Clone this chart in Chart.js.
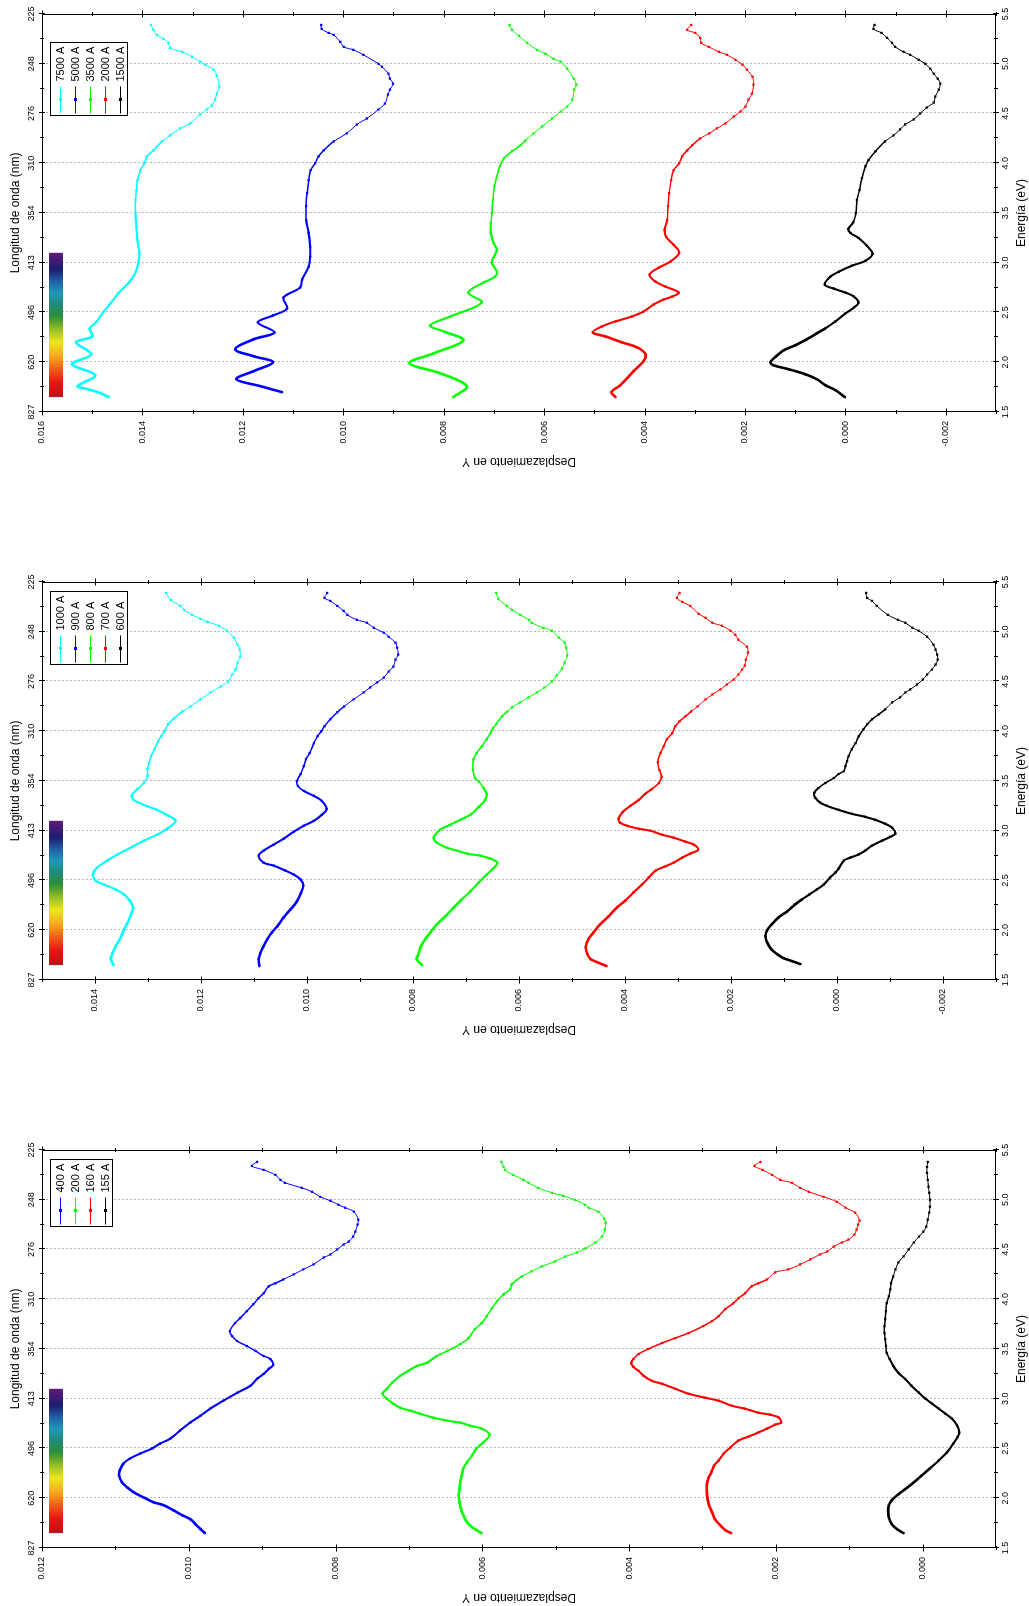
<!DOCTYPE html>
<html>
<head>
<meta charset="utf-8">
<title>Desplazamiento en Y</title>
<script src="https://cdn.jsdelivr.net/npm/chart.js@4.4.1/dist/chart.umd.min.js"></script>
<style>
    html, body { margin: 0; padding: 0; background: #fff; }
    body { width: 1029px; height: 1606px; position: relative; overflow: hidden; }
    /* each plot is drawn upright and turned a quarter turn anticlockwise */
    canvas.panel { position: absolute; left: 0; transform-origin: 0 0; transform: rotate(-90deg); }
</style>
</head>
<body>
<canvas id="p1" class="panel" width="490" height="1029" style="top:490px"></canvas>
<canvas id="p2" class="panel" width="490" height="1029" style="top:1058px"></canvas>
<canvas id="p3" class="panel" width="490" height="1029" style="top:1626px"></canvas>
<script>
// Axis ticks
var energyTicks = [1.5, 2.0, 2.5, 3.0, 3.5, 4.0, 4.5, 5.0, 5.5];
var waveLabels = ['827', '620', '496', '413', '354', '310', '276', '248', '225'];
var yTicks1 = [-0.002, 0, 0.002, 0.004, 0.006, 0.008, 0.010, 0.012, 0.014, 0.016];
var yTicks2 = [-0.002, 0, 0.002, 0.004, 0.006, 0.008, 0.010, 0.012, 0.014];
var yTicks3 = [0, 0.002, 0.004, 0.006, 0.008, 0.010, 0.012];
var yRange1 = [-0.003, 0.016];
var yRange2 = [-0.003, 0.015];
var yRange3 = [-0.001, 0.012];

// Visible spectrum strip (eV)
var specStart = 1.65, specEnd = 3.10;

// Series: energy (eV) and displacement (x 10^-3)
var e7500 = [1.65, 1.69, 1.73, 1.76, 1.87, 1.98, 2.08, 2.20, 2.26, 2.34,
    2.41, 2.51, 2.59, 2.70, 2.80, 2.90, 3.00, 3.10, 3.23, 3.36,
    3.50, 3.63, 3.73, 3.83, 3.93, 4.00, 4.07, 4.13, 4.22, 4.28,
    4.35, 4.40, 4.49, 4.54, 4.58, 4.64, 4.70, 4.77, 4.88, 4.94,
    4.99, 5.02, 5.07, 5.12, 5.16, 5.21, 5.25, 5.29, 5.34, 5.39];
var y7500 = [14.67, 14.84, 15.09, 15.29, 14.94, 15.40, 15.02, 15.32, 15.00, 15.05,
    14.91, 14.77, 14.64, 14.47, 14.27, 14.14, 14.08, 14.06, 14.10, 14.12,
    14.14, 14.14, 14.12, 14.10, 14.04, 13.96, 13.91, 13.78, 13.61, 13.45,
    13.25, 13.05, 12.85, 12.72, 12.62, 12.55, 12.52, 12.47, 12.52, 12.58,
    12.75, 12.85, 13.01, 13.21, 13.45, 13.48, 13.58, 13.71, 13.78, 13.83];

var e5000 = [1.70, 1.76, 1.83, 1.91, 2.00, 2.06, 2.13, 2.23, 2.30, 2.40,
    2.47, 2.54, 2.65, 2.75, 2.83, 2.96, 3.06, 3.16, 3.30, 3.43,
    3.57, 3.70, 3.83, 3.93, 4.00, 4.07, 4.13, 4.22, 4.30, 4.39,
    4.45, 4.54, 4.60, 4.69, 4.74, 4.80, 4.85, 4.90, 4.97, 5.00,
    5.09, 5.14, 5.17, 5.22, 5.29, 5.31, 5.35, 5.39];
var y5000 = [11.22, 11.65, 12.13, 11.79, 11.40, 11.78, 12.15, 11.79, 11.37, 11.70,
    11.40, 11.12, 11.19, 10.86, 10.82, 10.69, 10.66, 10.66, 10.69, 10.74,
    10.74, 10.72, 10.69, 10.65, 10.56, 10.49, 10.39, 10.19, 9.93, 9.73,
    9.53, 9.30, 9.17, 9.11, 9.07, 9.01, 9.07, 9.10, 9.23, 9.30,
    9.60, 9.80, 9.99, 10.06, 10.19, 10.29, 10.43, 10.44];

var e3500 = [1.65, 1.76, 1.89, 1.99, 2.09, 2.22, 2.31, 2.37, 2.46, 2.60,
    2.70, 2.80, 2.86, 2.91, 3.00, 3.06, 3.13, 3.20, 3.30, 3.40,
    3.50, 3.63, 3.77, 3.87, 3.97, 4.05, 4.12, 4.18, 4.23, 4.30,
    4.37, 4.45, 4.52, 4.57, 4.64, 4.74, 4.79, 4.85, 4.95, 5.02,
    5.05, 5.10, 5.14, 5.21, 5.28, 5.34, 5.39];
var y3500 = [7.81, 7.54, 8.07, 8.68, 8.20, 7.61, 8.00, 8.27, 7.87, 7.24,
    7.51, 7.21, 6.98, 6.94, 7.04, 7.00, 6.94, 7.01, 7.06, 7.06,
    7.04, 7.02, 6.99, 6.94, 6.88, 6.80, 6.64, 6.47, 6.37, 6.21,
    6.04, 5.84, 5.67, 5.54, 5.44, 5.40, 5.36, 5.41, 5.54, 5.67,
    5.81, 5.97, 6.14, 6.34, 6.50, 6.64, 6.69];

var e2000 = [1.65, 1.70, 1.77, 1.91, 2.01, 2.08, 2.15, 2.20, 2.26, 2.30,
    2.36, 2.41, 2.46, 2.51, 2.58, 2.63, 2.66, 2.70, 2.76, 2.81,
    2.88, 2.95, 3.01, 3.10, 3.18, 3.26, 3.33, 3.43, 3.57, 3.70,
    3.83, 3.93, 4.00, 4.07, 4.13, 4.18, 4.25, 4.30, 4.35, 4.40,
    4.47, 4.52, 4.57, 4.64, 4.70, 4.79, 4.87, 4.94, 4.99, 5.04,
    5.09, 5.12, 5.17, 5.21, 5.26, 5.31, 5.34, 5.39];
var y2000 = [4.58, 4.66, 4.48, 4.22, 4.02, 3.98, 4.15, 4.45, 4.78, 5.03,
    4.85, 4.58, 4.25, 4.02, 3.82, 3.62, 3.45, 3.32, 3.58, 3.78,
    3.90, 3.72, 3.49, 3.31, 3.42, 3.57, 3.60, 3.55, 3.53, 3.51,
    3.47, 3.42, 3.31, 3.25, 3.15, 3.05, 2.89, 2.71, 2.56, 2.39,
    2.22, 2.09, 1.99, 1.93, 1.86, 1.83, 1.85, 1.96, 2.05, 2.19,
    2.36, 2.52, 2.72, 2.87, 2.89, 2.99, 3.15, 3.07];

var e1500 = [1.65, 1.72, 1.77, 1.83, 1.88, 1.93, 1.97, 2.00, 2.06, 2.12,
    2.17, 2.23, 2.29, 2.34, 2.41, 2.49, 2.55, 2.60, 2.66, 2.70,
    2.74, 2.78, 2.86, 2.91, 2.97, 3.02, 3.09, 3.17, 3.25, 3.30,
    3.34, 3.41, 3.50, 3.63, 3.73, 3.85, 3.97, 4.03, 4.12, 4.22,
    4.28, 4.34, 4.39, 4.44, 4.50, 4.56, 4.61, 4.67, 4.74, 4.80,
    4.85, 4.90, 4.95, 5.00, 5.04, 5.09, 5.12, 5.17, 5.21, 5.26,
    5.31, 5.35, 5.39];
var y1500 = [0.01, 0.20, 0.40, 0.57, 0.80, 1.13, 1.43, 1.49, 1.38, 1.23,
    1.00, 0.77, 0.57, 0.40, 0.20, 0.00, -0.17, -0.26, -0.17, 0.00,
    0.23, 0.41, 0.30, 0.13, -0.13, -0.40, -0.54, -0.43, -0.26, -0.10,
    -0.06, -0.16, -0.21, -0.23, -0.28, -0.33, -0.40, -0.46, -0.60, -0.79,
    -0.96, -1.09, -1.19, -1.36, -1.49, -1.62, -1.76, -1.79, -1.86, -1.89,
    -1.84, -1.76, -1.69, -1.59, -1.46, -1.29, -1.16, -0.99, -0.93, -0.83,
    -0.72, -0.56, -0.58];

var e1000 = [1.65, 1.71, 1.77, 1.84, 1.91, 2.01, 2.08, 2.16, 2.23, 2.31,
    2.36, 2.41, 2.46, 2.50, 2.56, 2.63, 2.70, 2.76, 2.83, 2.90,
    2.96, 3.02, 3.10, 3.15, 3.21, 3.26, 3.31, 3.35, 3.42, 3.48,
    3.55, 3.62, 3.68, 3.75, 3.82, 3.90, 3.95, 4.00, 4.07, 4.13,
    4.20, 4.25, 4.32, 4.39, 4.45, 4.50, 4.57, 4.62, 4.69, 4.75,
    4.82, 4.87, 4.94, 5.01, 5.06, 5.10, 5.13, 5.17, 5.22, 5.26,
    5.32, 5.39];
var y1000 = [13.65, 13.70, 13.67, 13.61, 13.53, 13.45, 13.38, 13.32, 13.28, 13.36,
    13.45, 13.61, 13.83, 13.99, 14.04, 13.96, 13.77, 13.58, 13.33, 13.08,
    12.83, 12.64, 12.48, 12.61, 12.83, 13.08, 13.27, 13.31, 13.20, 13.08,
    13.01, 13.01, 12.98, 12.94, 12.88, 12.81, 12.75, 12.69, 12.62, 12.51,
    12.35, 12.20, 12.01, 11.82, 11.63, 11.49, 11.41, 11.35, 11.31, 11.26,
    11.27, 11.31, 11.38, 11.51, 11.66, 11.88, 12.01, 12.17, 12.32, 12.39,
    12.57, 12.66];

var e900 = [1.64, 1.71, 1.77, 1.84, 1.91, 1.98, 2.04, 2.13, 2.21, 2.29,
    2.38, 2.45, 2.51, 2.56, 2.60, 2.65, 2.68, 2.75, 2.80, 2.86,
    2.92, 2.99, 3.05, 3.10, 3.16, 3.22, 3.30, 3.35, 3.40, 3.45,
    3.50, 3.57, 3.65, 3.72, 3.78, 3.88, 3.95, 4.00, 4.05, 4.12,
    4.19, 4.25, 4.32, 4.39, 4.44, 4.49, 4.54, 4.60, 4.65, 4.72,
    4.77, 4.84, 4.89, 4.95, 4.99, 5.04, 5.09, 5.12, 5.17, 5.21,
    5.26, 5.31, 5.34, 5.39];
var y900 = [10.90, 10.91, 10.88, 10.82, 10.75, 10.66, 10.56, 10.44, 10.31, 10.19,
    10.11, 10.07, 10.12, 10.25, 10.41, 10.63, 10.82, 10.91, 10.82, 10.63,
    10.44, 10.25, 10.06, 9.87, 9.72, 9.63, 9.72, 9.87, 10.06, 10.17,
    10.19, 10.12, 10.06, 10.02, 9.95, 9.87, 9.80, 9.73, 9.67, 9.56,
    9.43, 9.30, 9.12, 8.93, 8.81, 8.68, 8.55, 8.46, 8.37, 8.33,
    8.28, 8.30, 8.33, 8.46, 8.55, 8.74, 8.87, 9.06, 9.24, 9.31,
    9.43, 9.56, 9.67, 9.62];

var e800 = [1.65, 1.71, 1.77, 1.84, 1.91, 1.98, 2.06, 2.14, 2.23, 2.31,
    2.39, 2.48, 2.56, 2.64, 2.68, 2.72, 2.75, 2.77, 2.80, 2.83,
    2.88, 2.93, 3.01, 3.06, 3.11, 3.16, 3.24, 3.31, 3.37, 3.43,
    3.49, 3.53, 3.61, 3.72, 3.78, 3.85, 3.92, 3.98, 4.03, 4.08,
    4.15, 4.20, 4.24, 4.29, 4.34, 4.39, 4.44, 4.50, 4.56, 4.63,
    4.69, 4.76, 4.84, 4.89, 4.94, 5.01, 5.04, 5.09, 5.12, 5.17,
    5.22, 5.26, 5.33, 5.39];
var y800 = [7.83, 7.93, 7.89, 7.85, 7.77, 7.67, 7.55, 7.39, 7.23, 7.08,
    6.92, 6.76, 6.61, 6.45, 6.41, 6.54, 6.73, 6.98, 7.17, 7.36,
    7.55, 7.61, 7.49, 7.30, 7.11, 6.92, 6.76, 6.64, 6.61, 6.67,
    6.75, 6.83, 6.87, 6.86, 6.80, 6.70, 6.61, 6.54, 6.49, 6.42,
    6.32, 6.22, 6.13, 5.98, 5.82, 5.66, 5.52, 5.38, 5.29, 5.19,
    5.14, 5.09, 5.11, 5.14, 5.25, 5.38, 5.54, 5.76, 5.81, 5.98,
    6.13, 6.23, 6.39, 6.43];

var e700 = [1.64, 1.68, 1.71, 1.76, 1.83, 1.91, 1.98, 2.06, 2.14, 2.23,
    2.30, 2.38, 2.46, 2.53, 2.60, 2.64, 2.68, 2.73, 2.77, 2.81,
    2.86, 2.89, 2.93, 2.96, 3.00, 3.02, 3.05, 3.08, 3.12, 3.19,
    3.25, 3.31, 3.37, 3.42, 3.48, 3.54, 3.61, 3.69, 3.78, 3.85,
    3.92, 3.98, 4.05, 4.10, 4.15, 4.20, 4.25, 4.32, 4.37, 4.42,
    4.47, 4.52, 4.57, 4.62, 4.66, 4.72, 4.79, 4.85, 4.92, 4.97,
    5.01, 5.06, 5.09, 5.14, 5.18, 5.26, 5.30, 5.34, 5.39];
var y700 = [4.35, 4.53, 4.65, 4.71, 4.74, 4.69, 4.59, 4.47, 4.31, 4.15,
    3.99, 3.84, 3.68, 3.55, 3.42, 3.25, 3.08, 2.92, 2.77, 2.62,
    2.70, 2.86, 3.08, 3.30, 3.52, 3.74, 3.96, 4.09, 4.12, 4.04,
    3.90, 3.74, 3.62, 3.49, 3.36, 3.31, 3.35, 3.38, 3.33, 3.27,
    3.21, 3.11, 3.05, 2.97, 2.86, 2.75, 2.63, 2.48, 2.35, 2.20,
    2.08, 1.95, 1.86, 1.79, 1.74, 1.72, 1.68, 1.70, 1.86, 1.92,
    2.01, 2.17, 2.35, 2.48, 2.61, 2.77, 2.92, 3.02, 2.97];

var e600 = [1.66, 1.69, 1.72, 1.76, 1.81, 1.88, 1.94, 2.00, 2.06, 2.13,
    2.19, 2.26, 2.31, 2.36, 2.41, 2.46, 2.53, 2.58, 2.62, 2.70,
    2.73, 2.76, 2.80, 2.85, 2.90, 2.94, 2.97, 3.03, 3.07, 3.11,
    3.14, 3.17, 3.21, 3.25, 3.28, 3.33, 3.38, 3.43, 3.48, 3.53,
    3.57, 3.60, 3.65, 3.70, 3.75, 3.82, 3.88, 3.95, 4.02, 4.07,
    4.12, 4.17, 4.22, 4.29, 4.34, 4.39, 4.42, 4.47, 4.52, 4.57,
    4.62, 4.67, 4.72, 4.77, 4.82, 4.87, 4.95, 5.01, 5.04, 5.09,
    5.12, 5.17, 5.26, 5.31, 5.34, 5.39];
var y600 = [0.69, 0.85, 1.01, 1.13, 1.24, 1.32, 1.35, 1.32, 1.23, 1.10,
    0.94, 0.79, 0.66, 0.52, 0.38, 0.25, 0.13, 0.03, -0.03, -0.13,
    -0.25, -0.40, -0.53, -0.66, -0.85, -1.01, -1.10, -1.04, -0.91, -0.72,
    -0.53, -0.28, -0.03, 0.19, 0.31, 0.41, 0.43, 0.35, 0.22, 0.06,
    -0.03, -0.13, -0.16, -0.19, -0.22, -0.28, -0.35, -0.41, -0.50, -0.57,
    -0.66, -0.79, -0.91, -1.04, -1.19, -1.29, -1.38, -1.51, -1.62, -1.70,
    -1.79, -1.86, -1.90, -1.89, -1.86, -1.82, -1.70, -1.54, -1.42, -1.29,
    -1.15, -0.96, -0.75, -0.66, -0.57, -0.55];

var e400 = [1.65, 1.69, 1.74, 1.79, 1.83, 1.88, 1.93, 1.96, 2.01, 2.06,
    2.11, 2.16, 2.23, 2.28, 2.35, 2.40, 2.45, 2.50, 2.55, 2.60,
    2.68, 2.76, 2.83, 2.90, 2.98, 3.06, 3.13, 3.20, 3.25, 3.30,
    3.34, 3.40, 3.43, 3.48, 3.53, 3.58, 3.63, 3.68, 3.76, 3.81,
    3.88, 3.95, 4.01, 4.06, 4.13, 4.16, 4.20, 4.25, 4.30, 4.35,
    4.42, 4.45, 4.50, 4.55, 4.58, 4.63, 4.68, 4.75, 4.80, 4.88,
    4.92, 4.95, 4.99, 5.03, 5.08, 5.12, 5.17, 5.20, 5.25, 5.30,
    5.34, 5.38];
var y400 = [9.78, 9.84, 9.91, 9.98, 10.09, 10.21, 10.34, 10.48, 10.62, 10.75,
    10.84, 10.91, 10.95, 10.94, 10.89, 10.80, 10.66, 10.50, 10.39, 10.25,
    10.12, 9.98, 9.84, 9.71, 9.53, 9.34, 9.16, 9.07, 8.98, 8.91,
    8.85, 8.89, 8.98, 9.09, 9.21, 9.34, 9.41, 9.44, 9.37, 9.30,
    9.21, 9.12, 9.05, 8.98, 8.91, 8.82, 8.71, 8.57, 8.44, 8.30,
    8.16, 8.07, 7.98, 7.89, 7.82, 7.76, 7.73, 7.70, 7.69, 7.75,
    7.87, 7.96, 8.07, 8.21, 8.32, 8.46, 8.69, 8.75, 8.82, 8.98,
    9.14, 9.07];

var e200 = [1.65, 1.68, 1.71, 1.76, 1.83, 1.89, 1.96, 2.03, 2.09, 2.16,
    2.23, 2.30, 2.36, 2.43, 2.50, 2.56, 2.64, 2.70, 2.73, 2.76,
    2.78, 2.81, 2.85, 2.88, 2.91, 2.95, 3.00, 3.05, 3.10, 3.16,
    3.23, 3.28, 3.33, 3.36, 3.43, 3.48, 3.55, 3.61, 3.70, 3.76,
    3.83, 3.91, 3.98, 4.05, 4.10, 4.15, 4.23, 4.28, 4.33, 4.38,
    4.43, 4.47, 4.51, 4.57, 4.63, 4.70, 4.77, 4.81, 4.88, 4.92,
    4.95, 5.00, 5.04, 5.07, 5.12, 5.17, 5.20, 5.25, 5.30, 5.33,
    5.38];
var y200 = [6.01, 6.08, 6.14, 6.21, 6.26, 6.29, 6.31, 6.32, 6.31, 6.30,
    6.28, 6.26, 6.21, 6.14, 6.08, 5.99, 5.90, 6.01, 6.17, 6.30,
    6.48, 6.67, 6.85, 6.98, 7.12, 7.21, 7.30, 7.36, 7.30, 7.23,
    7.12, 7.01, 6.89, 6.76, 6.62, 6.48, 6.30, 6.19, 6.10, 6.01,
    5.94, 5.87, 5.80, 5.71, 5.62, 5.60, 5.46, 5.33, 5.19, 5.01,
    4.87, 4.71, 4.60, 4.46, 4.37, 4.33, 4.32, 4.34, 4.42, 4.55,
    4.60, 4.74, 4.90, 5.05, 5.24, 5.37, 5.44, 5.58, 5.69, 5.71,
    5.74];

var e160 = [1.65, 1.68, 1.73, 1.79, 1.86, 1.93, 1.99, 2.06, 2.13, 2.20,
    2.26, 2.33, 2.38, 2.45, 2.51, 2.58, 2.62, 2.66, 2.70, 2.74,
    2.76, 2.81, 2.84, 2.86, 2.90, 2.93, 2.98, 3.01, 3.05, 3.10,
    3.15, 3.18, 3.23, 3.28, 3.32, 3.36, 3.40, 3.45, 3.50, 3.56,
    3.61, 3.66, 3.73, 3.78, 3.83, 3.90, 3.96, 4.01, 4.06, 4.13,
    4.16, 4.20, 4.27, 4.30, 4.35, 4.40, 4.45, 4.48, 4.53, 4.57,
    4.60, 4.65, 4.70, 4.75, 4.79, 4.87, 4.92, 4.98, 5.03, 5.08,
    5.12, 5.17, 5.20, 5.25, 5.30, 5.34, 5.38];
var y160 = [2.61, 2.69, 2.76, 2.83, 2.87, 2.91, 2.93, 2.94, 2.94, 2.92,
    2.88, 2.84, 2.78, 2.71, 2.62, 2.51, 2.37, 2.24, 2.12, 2.01,
    1.93, 1.96, 2.08, 2.24, 2.42, 2.60, 2.78, 2.96, 3.19, 3.37,
    3.55, 3.69, 3.80, 3.87, 3.94, 3.97, 3.94, 3.87, 3.74, 3.55,
    3.37, 3.19, 2.99, 2.87, 2.78, 2.69, 2.58, 2.51, 2.42, 2.33,
    2.24, 2.12, 2.01, 1.83, 1.67, 1.53, 1.40, 1.30, 1.21, 1.10,
    1.01, 0.93, 0.90, 0.88, 0.86, 0.92, 1.05, 1.17, 1.35, 1.55,
    1.67, 1.78, 1.94, 2.05, 2.18, 2.29, 2.21];

var e155 = [1.65, 1.69, 1.74, 1.81, 1.88, 1.93, 1.98, 2.04, 2.09, 2.16,
    2.23, 2.30, 2.38, 2.46, 2.55, 2.62, 2.66, 2.73, 2.80, 2.85,
    2.90, 2.95, 3.00, 3.06, 3.13, 3.20, 3.26, 3.33, 3.40, 3.46,
    3.53, 3.60, 3.66, 3.73, 3.80, 3.88, 3.96, 4.03, 4.10, 4.16,
    4.23, 4.30, 4.37, 4.43, 4.50, 4.57, 4.63, 4.68, 4.73, 4.80,
    4.87, 4.93, 5.00, 5.07, 5.13, 5.20, 5.27, 5.33, 5.38];
var y155 = [0.26, 0.35, 0.42, 0.46, 0.47, 0.46, 0.42, 0.33, 0.24, 0.12,
    0.01, -0.10, -0.22, -0.33, -0.42, -0.48, -0.50, -0.47, -0.40, -0.31,
    -0.22, -0.13, -0.04, 0.05, 0.15, 0.24, 0.33, 0.40, 0.45, 0.49,
    0.50, 0.51, 0.52, 0.52, 0.51, 0.50, 0.49, 0.46, 0.44, 0.43,
    0.40, 0.37, 0.33, 0.26, 0.19, 0.12, 0.05, -0.01, -0.05, -0.07,
    -0.09, -0.10, -0.10, -0.09, -0.08, -0.07, -0.06, -0.06, -0.07];

var CYAN = '#00ffff', BLUE = '#0000ff', GREEN = '#00ff00', RED = '#ff0000', BLACK = '#000000';
var FONT = "'Liberation Sans', Arial, Helvetica, sans-serif";

var panels = [
    { id: 'p1', range: yRange1, ticks: yTicks1, legendGap: 29, series: [
        { label: '7500 A', color: CYAN, e: e7500, v: y7500 },
        { label: '5000 A', color: BLUE, e: e5000, v: y5000 },
        { label: '3500 A', color: GREEN, e: e3500, v: y3500 },
        { label: '2000 A', color: RED, e: e2000, v: y2000 },
        { label: '1500 A', color: BLACK, e: e1500, v: y1500 }
    ]},
    { id: 'p2', range: yRange2, ticks: yTicks2, legendGap: 10, series: [
        { label: '1000 A', color: CYAN, e: e1000, v: y1000 },
        { label: '900 A', color: BLUE, e: e900, v: y900 },
        { label: '800 A', color: GREEN, e: e800, v: y800 },
        { label: '700 A', color: RED, e: e700, v: y700 },
        { label: '600 A', color: BLACK, e: e600, v: y600 }
    ]},
    { id: 'p3', range: yRange3, ticks: yTicks3, legendGap: 10, series: [
        { label: '400 A', color: BLUE, e: e400, v: y400 },
        { label: '200 A', color: GREEN, e: e200, v: y200 },
        { label: '160 A', color: RED, e: e160, v: y160 },
        { label: '155 A', color: BLACK, e: e155, v: y155 }
    ]}
];

// Samples crowd together at low energy, so the trace looks heavier there
function lineWeight(e) {
    if (e < 2.3) return 2.6;
    if (e < 3.4) return 2.1;
    if (e < 4.2) return 1.5;
    return 1;
}

// Spectrum strip colours, red end to violet end
var spectrumStops = [
    [0.00, '#b81212'], [0.10, '#e81515'], [0.19, '#f05a18'], [0.27, '#f5a01e'],
    [0.38, '#eee820'], [0.48, '#8ab82a'], [0.56, '#2f8f3a'], [0.64, '#1e8a78'],
    [0.72, '#1e9ab8'], [0.80, '#2060a8'], [0.88, '#1a2070'], [0.965, '#4a1a78'],
    [1.00, '#6a1a82']
];

function px(v) { return Math.round(v) + 0.5; }

var decorPlugin = {
    id: 'decor',
    beforeDatasetsDraw: function (chart) {
        var ctx = chart.ctx, a = chart.chartArea, x = chart.scales.x;
        ctx.save();
        // dotted grid at the energy ticks
        ctx.strokeStyle = '#b8b8b8';
        ctx.lineWidth = 1;
        ctx.setLineDash([2, 2]);
        energyTicks.forEach(function (e) {
            if (e <= energyTicks[0] || e >= energyTicks[energyTicks.length - 1]) return;
            var p = px(x.getPixelForValue(e));
            ctx.beginPath();
            ctx.moveTo(p, a.top);
            ctx.lineTo(p, a.bottom);
            ctx.stroke();
        });
        ctx.setLineDash([]);
        // spectrum strip
        var x0 = x.getPixelForValue(specStart), x1 = x.getPixelForValue(specEnd);
        var g = ctx.createLinearGradient(x0, 0, x1, 0);
        spectrumStops.forEach(function (s) { g.addColorStop(s[0], s[1]); });
        ctx.fillStyle = g;
        ctx.fillRect(x0, a.top + 7, x1 - x0, 14);
        ctx.restore();
    },
    afterDatasetsDraw: function (chart, args, opts) {
        var ctx = chart.ctx, a = chart.chartArea, x = chart.scales.x, y = chart.scales.y;
        ctx.save();
        ctx.strokeStyle = '#000';
        ctx.lineWidth = 1;
        var L = Math.round(a.left), R = Math.round(a.right), T = Math.round(a.top), B = Math.round(a.bottom);
        ctx.strokeRect(L + 0.5, T + 0.5, R - L - 1, B - T - 1);

        // energy ticks every 0.25 eV on both long edges
        ctx.beginPath();
        for (var q = 6; q <= 22; q++) {
            var e = q / 4, major = (q % 2 === 0), len = major ? 3 : 2;
            var p = px(x.getPixelForValue(e));
            ctx.moveTo(p, T - len); ctx.lineTo(p, T + len);
            ctx.moveTo(p, B - len); ctx.lineTo(p, B + len);
        }
        // displacement ticks every 0.001 on both short edges
        var lo = Math.ceil(y.min * 1000 - 1e-6), hi = Math.floor(y.max * 1000 + 1e-6);
        for (var k = lo; k <= hi; k++) {
            var len2 = (k % 2 === 0) ? 3.5 : 2;
            var py = px(y.getPixelForValue(k / 1000));
            ctx.moveTo(L - len2, py); ctx.lineTo(L + len2, py);
            ctx.moveTo(R - len2, py); ctx.lineTo(R + len2, py);
        }
        ctx.stroke();

        // legend box in the upper right corner
        var items = chart.data.datasets;
        ctx.font = '11px ' + FONT;
        var tw = 0;
        items.forEach(function (d) { tw = Math.max(tw, ctx.measureText(d.label).width); });
        var w = Math.round(34 + tw + 4), h = items.length * 15 + 2;
        var bl = Math.round(a.right - opts.gap - w) + 0.5, bt = Math.round(a.top + 8) + 0.5;
        ctx.fillStyle = '#fff';
        ctx.fillRect(bl, bt, w, h);
        ctx.strokeStyle = '#000';
        ctx.strokeRect(bl, bt, w, h);
        ctx.textBaseline = 'middle';
        items.forEach(function (d, i) {
            var ry = Math.round(bt + 9 + 15 * i) + 0.5;
            ctx.strokeStyle = d.borderColor;
            ctx.lineWidth = 1;
            ctx.beginPath();
            ctx.moveTo(bl + 2, ry); ctx.lineTo(bl + 29, ry);
            ctx.stroke();
            ctx.fillStyle = d.borderColor;
            ctx.fillRect(bl + 14.5, ry - 1.5, 3, 3);
            ctx.fillStyle = '#000';
            ctx.fillText(d.label, bl + 34, ry + 0.5);
        });
        ctx.restore();
    }
};

function renderPanel(p) {
    var tickFont = { family: FONT, size: 9 };
    var titleFont = { family: FONT, size: 12 };
    var datasets = p.series.map(function (s) {
        return {
            label: s.label,
            data: s.e.map(function (e, i) { return { x: e, y: s.v[i] / 1000 }; }),
            borderColor: s.color,
            backgroundColor: s.color,
            pointBackgroundColor: s.color,
            pointBorderWidth: 0,
            pointStyle: 'rect',
            pointRadius: 1.6,
            borderWidth: 1,
            tension: 0.35,
            segment: { borderWidth: function (c) { return lineWeight(c.p0.parsed.x); } }
        };
    });
    new Chart(document.getElementById(p.id), {
        type: 'line',
        data: { datasets: datasets },
        plugins: [decorPlugin],
        options: {
            responsive: false,
            animation: false,
            devicePixelRatio: 1,
            events: [],
            layout: { padding: { left: 0, top: 0, right: 14, bottom: 0 } },
            plugins: { legend: { display: false }, tooltip: { enabled: false }, decor: { gap: p.legendGap } },
            scales: {
                x: {
                    type: 'linear', position: 'bottom', min: 1.5, max: 5.5,
                    afterBuildTicks: function (s) { s.ticks = energyTicks.map(function (v) { return { value: v }; }); },
                    ticks: { font: tickFont, color: '#000', padding: 4, maxRotation: 0, minRotation: 0, autoSkip: false,
                        callback: function (v) { return v.toFixed(1); } },
                    grid: { display: false, drawTicks: false }, border: { display: false },
                    title: { display: true, text: 'Energía (eV)', font: titleFont, color: '#000', padding: { top: 0, bottom: 0 } },
                    afterFit: function (s) { s.height = 33; }
                },
                x2: {
                    type: 'linear', position: 'top', min: 1.5, max: 5.5,
                    afterBuildTicks: function (s) { s.ticks = energyTicks.map(function (v) { return { value: v }; }); },
                    ticks: { font: tickFont, color: '#000', padding: 5, maxRotation: 0, minRotation: 0, autoSkip: false,
                        callback: function (v, i) { return waveLabels[i]; } },
                    grid: { display: false, drawTicks: false }, border: { display: false },
                    title: { display: true, text: 'Longitud de onda (nm)', font: titleFont, color: '#000', padding: { top: 8, bottom: 0 } },
                    afterFit: function (s) { s.height = 42; }
                },
                y: {
                    type: 'linear', position: 'left', min: p.range[0], max: p.range[1],
                    afterBuildTicks: function (s) { s.ticks = p.ticks.map(function (v) { return { value: v }; }); },
                    ticks: { font: tickFont, color: '#000', padding: 9, autoSkip: false,
                        callback: function (v) { return v.toFixed(3); } },
                    grid: { display: false, drawTicks: false }, border: { display: false },
                    title: { display: true, text: 'Desplazamiento en Y', font: titleFont, color: '#000', padding: { top: 21, bottom: 0 } },
                    afterFit: function (s) { s.width = 78; }
                }
            }
        }
    });
}

panels.forEach(renderPanel);
</script>
</body>
</html>
